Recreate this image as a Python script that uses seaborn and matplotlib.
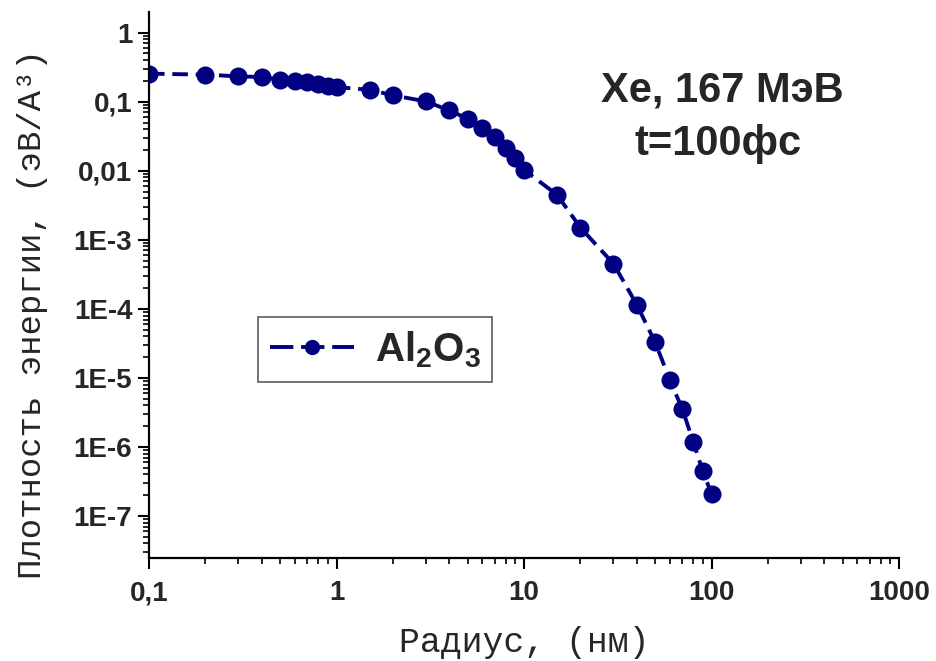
import numpy as np
import pandas as pd
import matplotlib
matplotlib.use("Agg")
import matplotlib.pyplot as plt
import matplotlib.ticker as mticker
import seaborn as sns

# Data
radius_nm = [0.1, 0.2, 0.3, 0.4, 0.5, 0.6, 0.7, 0.8, 0.9, 1.0, 1.5, 2, 3, 4, 5, 6, 7, 8, 9, 10,
             15, 20, 30, 40, 50, 60, 70, 80, 90, 100]
energy_density = [0.255, 0.247, 0.233, 0.228, 0.208, 0.197, 0.19, 0.182, 0.17, 0.163, 0.149, 0.124,
                  0.101, 0.0748, 0.0567, 0.0415, 0.0308, 0.0213, 0.0153, 0.0103,
                  0.00449, 0.00150, 4.5e-4, 1.14e-4, 3.29e-5, 9.3e-6, 3.5e-6, 1.17e-6, 4.4e-7, 2.09e-7]
series_label = "Al$_2$O$_3$"

x_ticks = [0.1, 1, 10, 100, 1000]
x_tick_labels = ["0,1", "1", "10", "100", "1000"]
y_ticks = [1, 0.1, 0.01, 1e-3, 1e-4, 1e-5, 1e-6, 1e-7]
y_tick_labels = ["1", "0,1", "0,01", "1E-3", "1E-4", "1E-5", "1E-6", "1E-7"]

df = pd.DataFrame({"r": radius_nm, "e": energy_density, "s": series_label})

sns.set_style("ticks")
plt.rcParams["font.family"] = ["Liberation Sans", "DejaVu Sans"]
plt.rcParams["mathtext.fontset"] = "custom"
plt.rcParams["mathtext.rm"] = "Liberation Sans:bold"
plt.rcParams["mathtext.it"] = "Liberation Sans:bold"
plt.rcParams["mathtext.bf"] = "Liberation Sans:bold"

navy = "#000080"
fig = plt.figure(figsize=(9.37, 6.61), dpi=100)
ax = fig.add_axes([149 / 937, 1 - 558 / 661, 750 / 937, 546 / 661])

sns.lineplot(data=df, x="r", y="e", hue="s", palette=[navy], ax=ax,
             marker="o", markersize=13, markeredgewidth=0, linewidth=2.8,
             dashes=False, sort=False)
for ln in ax.get_lines():
    ln.set_linestyle((0, (4, 2)))

ax.set_xscale("log")
ax.set_yscale("log")
ax.set_xlim(0.1, 1000)
ax.set_ylim(10 ** -7.61, 10 ** 0.30)

ax.xaxis.set_major_locator(mticker.FixedLocator(x_ticks))
ax.xaxis.set_major_formatter(mticker.FixedFormatter(x_tick_labels))
ax.yaxis.set_major_locator(mticker.FixedLocator(y_ticks))
ax.yaxis.set_major_formatter(mticker.FixedFormatter(y_tick_labels))
ax.xaxis.set_minor_locator(mticker.LogLocator(base=10, subs=np.arange(2, 10), numticks=20))
ax.yaxis.set_minor_locator(mticker.LogLocator(base=10, subs=np.arange(2, 10), numticks=20))
ax.xaxis.set_minor_formatter(mticker.NullFormatter())
ax.yaxis.set_minor_formatter(mticker.NullFormatter())

ax.tick_params(axis="both", which="major", length=8, width=1.5, direction="out",
               labelsize=20, pad=4, color="black")
ax.tick_params(axis="x", which="major", pad=8)
ax.tick_params(axis="both", which="minor", length=4.5, width=1.2, direction="out", color="black")
for lbl in ax.get_xticklabels() + ax.get_yticklabels():
    lbl.set_fontweight("bold")

for side in ["top", "right"]:
    ax.spines[side].set_visible(False)
for side in ["left", "bottom"]:
    ax.spines[side].set_linewidth(1.6)
    ax.spines[side].set_color("black")

ax.set_xlabel("Радиус, (нм)", fontfamily="Liberation Mono", fontsize=25, labelpad=14)
ax.set_ylabel("Плотность энергии, (эВ/A³)", fontfamily="Liberation Mono", fontsize=24.5)
ax.yaxis.set_label_coords(-0.135, 0.447)

ax.text(0.764, 0.856, "Xe, 167 МэВ", transform=ax.transAxes, ha="center", va="center",
        fontsize=30, fontweight="bold")
ax.text(0.759, 0.759, "t=100фс", transform=ax.transAxes, ha="center", va="center",
        fontsize=30, fontweight="bold")

leg = ax.legend(loc="upper left", bbox_to_anchor=(0.145, 0.441), borderaxespad=0,
                fontsize=29, frameon=True, fancybox=False, edgecolor="#333333",
                handlelength=2.1, borderpad=0.3, handletextpad=0.5, title=None)
leg.get_frame().set_linewidth(1.2)
for t in leg.get_texts():
    t.set_fontweight("bold")
for h in leg.get_lines():
    h.set_linestyle((0, (6, 2)))
    h.set_markersize(11)

fig.savefig("out.png", dpi=100)
